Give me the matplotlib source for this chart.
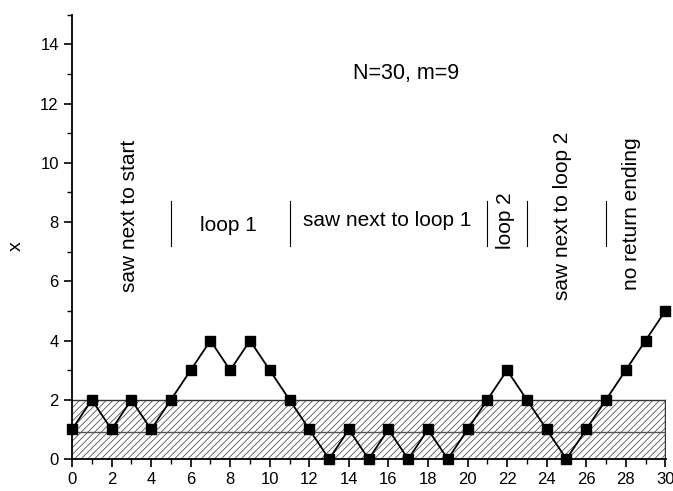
import matplotlib.pyplot as plt
import numpy as np
from matplotlib.patches import Rectangle
from matplotlib.ticker import MultipleLocator

plt.rcParams['font.family'] = ['Liberation Sans', 'DejaVu Sans']
plt.rcParams['hatch.color'] = '#555555'
plt.rcParams['hatch.linewidth'] = 0.6

steps = np.arange(31)
xvals = [1, 2, 1, 2, 1, 2, 3, 4, 3, 4, 3, 2, 1, 0, 1, 0, 1, 0, 1, 0,
         1, 2, 3, 2, 1, 0, 1, 2, 3, 4, 5]

band_top = 2
mid_line = 0.93
separators = [5, 11, 21, 23, 27]
sep_lo, sep_hi = 7.2, 8.7

labels = [
    (2.9, 8.2, "saw next to start", 90),
    (7.9, 7.9, "loop 1", 0),
    (15.95, 8.05, "saw next to loop 1", 0),
    (21.9, 8.05, "loop 2", 90),
    (24.8, 8.2, "saw next to loop 2", 90),
    (28.3, 8.3, "no return ending", 90),
]

fig = plt.figure(figsize=(6.73, 4.91), dpi=100)
ax = fig.add_axes([0.107, 0.065, 0.883, 0.905])

rect = Rectangle((0, 0), 30, band_top, facecolor='white', edgecolor='#555555',
                 hatch='/////', lw=0.0, zorder=1)
ax.add_patch(rect)
ax.plot([0, 30], [band_top, band_top], color='#333333', lw=1.0, zorder=2)
ax.plot([30, 30], [0, band_top], color='#333333', lw=1.0, zorder=2)
ax.axhline(mid_line, color='#555555', lw=1.0, zorder=2)

ax.plot(steps, xvals, color='black', lw=1.3, marker='s', ms=6.5,
        zorder=3, clip_on=False)

for s in separators:
    ax.plot([s, s], [sep_lo, sep_hi], color='black', lw=0.8)

for x, y, t, r in labels:
    ax.text(x, y, t, rotation=r, ha='center', va='center', fontsize=15)
ax.text(16.9, 13.0, "N=30, m=9", ha='center', va='center', fontsize=15.5)

ax.set_xlim(0, 30.05)
ax.set_ylim(0, 15)
ax.xaxis.set_major_locator(MultipleLocator(2))
ax.xaxis.set_minor_locator(MultipleLocator(1))
ax.yaxis.set_major_locator(MultipleLocator(2))
ax.yaxis.set_minor_locator(MultipleLocator(1))
ax.tick_params(which='major', direction='out', length=6, width=1.2, labelsize=12)
ax.tick_params(which='minor', direction='out', length=3.5, width=1.0)
for side in ['top', 'right']:
    ax.spines[side].set_visible(False)
for side in ['left', 'bottom']:
    ax.spines[side].set_linewidth(1.3)
ax.set_ylabel("x", fontsize=14)
ax.yaxis.set_label_coords(-0.08, 0.48)

fig.savefig("out.png", dpi=100)
